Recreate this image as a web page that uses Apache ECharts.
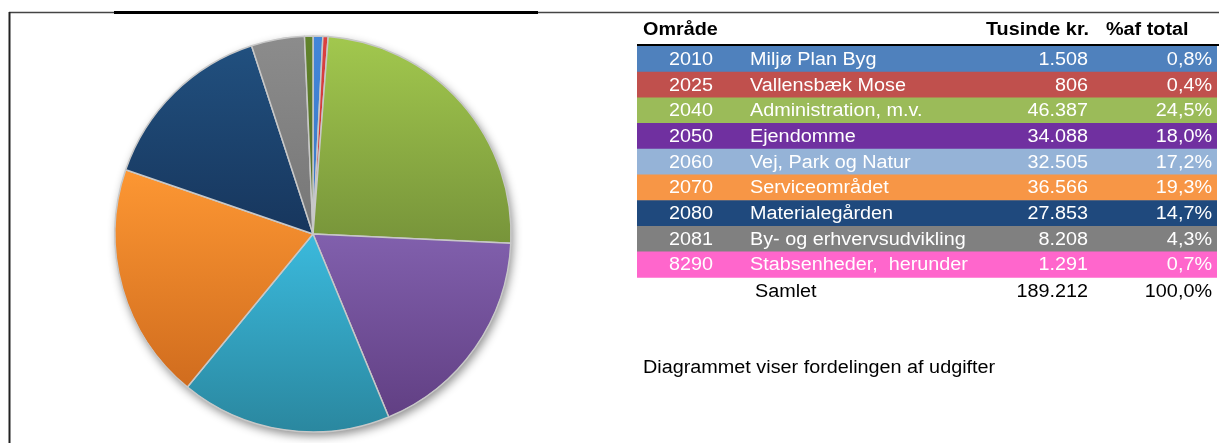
<!DOCTYPE html>
<html>
<head>
<meta charset="utf-8">
<script src="https://cdn.jsdelivr.net/npm/echarts@6/dist/echarts.min.js"></script>
<style>
  html, body { margin: 0; padding: 0; background: #fff; }
  #chart { width: 1219px; height: 443px; }
</style>
</head>
<body>
<div id="chart"></div>
<script>
// data
const codes = ['2010', '2025', '2040', '2050', '2060', '2070', '2080', '2081', '8290']
const names = ['Miljø Plan Byg', 'Vallensbæk Mose', 'Administration, m.v.', 'Ejendomme', 'Vej, Park og Natur',
  'Serviceområdet', 'Materialegården', 'By- og erhvervsudvikling', 'Stabsenheder,  herunder']
const values = [1508, 806, 46387, 34088, 32505, 36566, 27853, 8208, 1291]
const shares = ['0,8%', '0,4%', '24,5%', '18,0%', '17,2%', '19,3%', '14,7%', '4,3%', '0,7%']
const totalLabel = '189.212'
const totalShare = '100,0%'
const headers = ['Område', 'Tusinde kr.', '%af total']
const note = 'Diagrammet viser fordelingen af udgifter'

// farver: tabel og lagkage er ikke ens i originalen
const rowColors = ['#4f81bd', '#c0504d', '#9bbb59', '#7030a0', '#95b3d7', '#f79646', '#1f497d', '#808080', '#ff66cc']
const pieColors = [
  ['#4386d8', '#3a78c6'], ['#dc4040', '#c43434'], ['#a2c84e', '#77943a'], ['#8160ad', '#613f83'],
  ['#3bbadd', '#2a879f'], ['#fd9733', '#d06c1e'], ['#21507f', '#17365d'], ['#8c8c8c', '#767676'], ['#62842c', '#4f6a22']
]

const fmt = v => v.toLocaleString('da-DK')

const chart = echarts.init(document.getElementById('chart'))

const tableLeft = 637
const tableRight = 1217
const rowTop = 46
const rowH = 25.7
const font = '"Liberation Sans", Arial, sans-serif'
const stretch = 1.1

// tekst lidt bredere, som i Excel-udgaven
function txt(text, x, y, opts) {
  opts = opts || {}
  return {
    type: 'text',
    x: x,
    y: y,
    scaleX: stretch,
    style: {
      text: text,
      x: 0,
      y: 0,
      font: (opts.bold ? 'bold ' : '') + '18px ' + font,
      fill: opts.fill || '#000',
      align: opts.align || 'left',
      verticalAlign: 'middle'
    }
  }
}

const graphics = []
// ramme
graphics.push({ type: 'line', shape: { x1: 9, y1: 12.5, x2: 1219, y2: 12.5 }, style: { stroke: '#444', lineWidth: 1.3 } })
graphics.push({ type: 'line', shape: { x1: 114, y1: 12.5, x2: 538, y2: 12.5 }, style: { stroke: '#000', lineWidth: 3 } })
graphics.push({ type: 'line', shape: { x1: 9.5, y1: 12, x2: 9.5, y2: 443 }, style: { stroke: '#222', lineWidth: 2 } })

// overskrift
const headY = 30
graphics.push(txt(headers[0], 643, headY, { bold: true }))
graphics.push(txt(headers[1], 1089, headY, { bold: true, align: 'right' }))
graphics.push(txt(headers[2], 1106, headY, { bold: true }))
graphics.push({ type: 'line', shape: { x1: tableLeft, y1: 45, x2: 1219, y2: 45 }, style: { stroke: '#000', lineWidth: 2 } })

codes.forEach((c, i) => {
  const y = rowTop + i * rowH
  const cy = y + rowH / 2 + 1
  graphics.push({ type: 'rect', shape: { x: tableLeft, y: y, width: tableRight - tableLeft, height: rowH + 0.5 }, style: { fill: rowColors[i] } })
  graphics.push(txt(c, 669, cy, { fill: '#fff' }))
  graphics.push(txt(names[i], 750, cy, { fill: '#fff' }))
  graphics.push(txt(fmt(values[i]), 1088, cy, { fill: '#fff', align: 'right' }))
  graphics.push(txt(shares[i], 1212, cy, { fill: '#fff', align: 'right' }))
})
const sumY = rowTop + codes.length * rowH + rowH / 2 + 2
graphics.push(txt('Samlet', 755, sumY))
graphics.push(txt(totalLabel, 1088, sumY, { align: 'right' }))
graphics.push(txt(totalShare, 1212, sumY, { align: 'right' }))

graphics.push(txt(note, 643, 368))

const total = values.reduce((a, b) => a + b, 0)

chart.setOption({
  animation: false,
  graphic: graphics,
  series: [
    {
      // skygge under lagkagen
      type: 'pie',
      silent: true,
      center: [313, 234],
      radius: 198,
      label: { show: false },
      labelLine: { show: false },
      z: 1,
      data: [{
        value: total,
        itemStyle: { color: '#fff', shadowBlur: 10, shadowOffsetX: 2, shadowOffsetY: 4, shadowColor: 'rgba(0,0,0,0.45)' }
      }]
    },
    {
      type: 'pie',
      silent: true,
      center: [313, 234],
      radius: 198,
      startAngle: 90,
      clockwise: true,
      z: 2,
      label: { show: false },
      labelLine: { show: false },
      itemStyle: { borderColor: '#c8c8c8', borderWidth: 1.5 },
      data: values.map((v, i) => ({
        name: codes[i],
        value: v,
        itemStyle: {
          color: new echarts.graphic.LinearGradient(0, 0, 0, 1, [
            { offset: 0, color: pieColors[i][0] },
            { offset: 1, color: pieColors[i][1] }
          ])
        }
      }))
    }
  ]
})
</script>
</body>
</html>
